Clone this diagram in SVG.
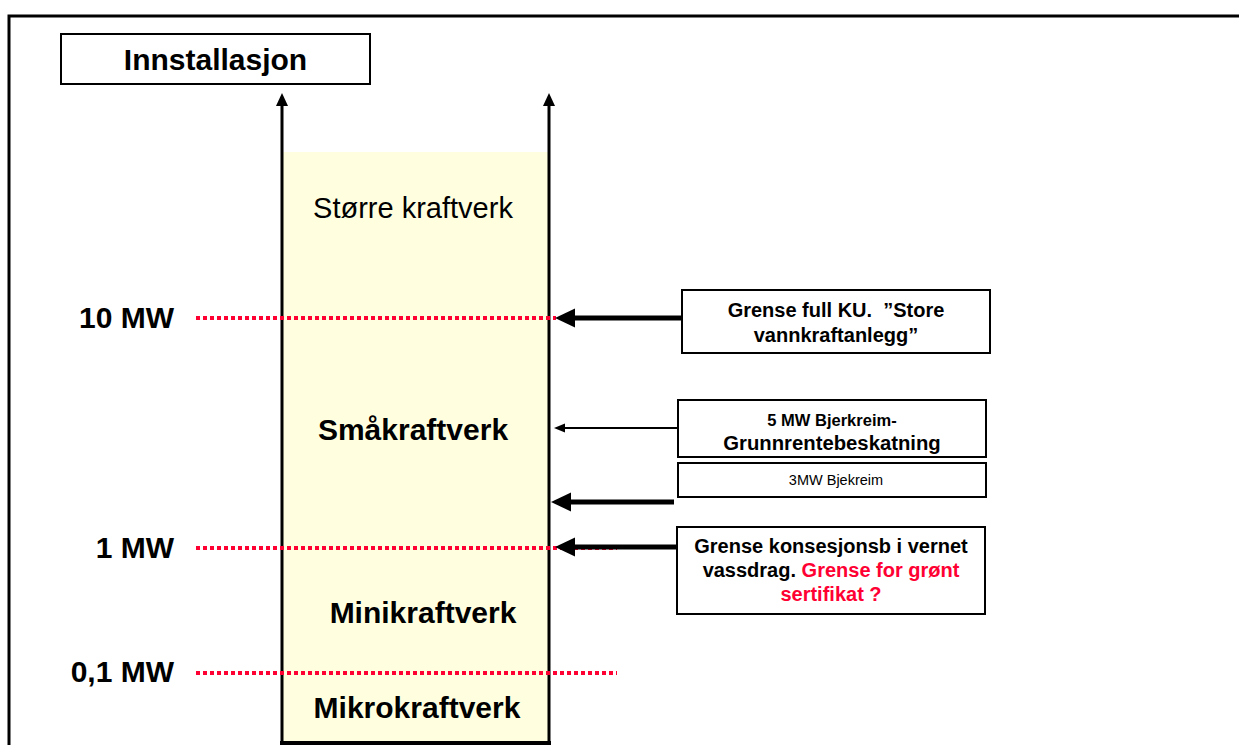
<svg xmlns="http://www.w3.org/2000/svg" width="1239" height="745" viewBox="0 0 1239 745">
<style>
.t{font-family:"Liberation Sans",Arial,sans-serif;fill:#000}
.b{font-weight:bold}
.red{fill:#FF0033}
.box{fill:#fff;stroke:#000;stroke-width:2}
.dot{stroke:#FF0033;stroke-width:4;stroke-dasharray:4 3;fill:none}
.ln{stroke:#000;fill:none}
.hd{fill:#000}
</style>
<rect width="1239" height="745" fill="#fff"/>
<g id="frame"><path class="ln" d="M9,745 V16 H1239" stroke-width="3"/></g>

<g id="scale">
<rect x="282" y="152" width="267" height="591" fill="#FFFFE0"/>
<line class="ln" x1="280" y1="743" x2="551" y2="743" stroke-width="4"/>
<line class="ln" x1="282" y1="745" x2="282" y2="104" stroke-width="3"/>
<polygon class="hd" points="282,93 276,106 288,106"/>
<line class="ln" x1="549" y1="745" x2="549" y2="104" stroke-width="3"/>
<polygon class="hd" points="549,93 543,106 555,106"/>
</g>

<g id="title">
<rect class="box" x="61" y="34" width="309" height="50"/>
<text class="t b" x="215.5" y="70" font-size="30" text-anchor="middle">Innstallasjon</text>
</g>

<g id="labels">
<text class="t b" x="174" y="328" font-size="30" text-anchor="end">10 MW</text>
<text class="t b" x="174" y="558" font-size="30" text-anchor="end">1 MW</text>
<text class="t b" x="174" y="682" font-size="30" text-anchor="end">0,1 MW</text>
</g>

<g id="regions">
<text class="t" x="413" y="218" font-size="29" text-anchor="middle">Større kraftverk</text>
<text class="t b" x="413" y="440" font-size="30" text-anchor="middle">Småkraftverk</text>
<text class="t b" x="423" y="623" font-size="30" text-anchor="middle">Minikraftverk</text>
<text class="t b" x="417" y="718" font-size="30" text-anchor="middle">Mikrokraftverk</text>
</g>

<g id="connectors">
<line class="dot" x1="196" y1="318" x2="556" y2="318"/>
<line class="dot" x1="196" y1="548" x2="617" y2="548"/>
<line class="dot" x1="196" y1="673" x2="617" y2="673"/>
<line class="ln" x1="682" y1="318" x2="572" y2="318" stroke-width="5"/>
<polygon class="hd" points="555,318 575,308.5 575,327.5"/>
<line class="ln" x1="678" y1="428" x2="562" y2="428" stroke-width="2"/>
<polygon class="hd" points="554,428 565,423.5 565,432.5"/>
<line class="ln" x1="674" y1="502" x2="568" y2="502" stroke-width="5"/>
<polygon class="hd" points="551,502 571,492.5 571,511.5"/>
<line class="ln" x1="677" y1="547" x2="572" y2="547" stroke-width="5"/>
<polygon class="hd" points="555,547 575,537.5 575,556.5"/>
</g>

<g id="box-ku">
<rect class="box" x="682" y="290" width="308" height="63"/>
<text class="t b" x="836" y="317" font-size="20" text-anchor="middle" xml:space="preserve">Grense full KU.  ”Store</text>
<text class="t b" x="836" y="342" font-size="20" text-anchor="middle">vannkraftanlegg”</text>
</g>

<g id="box-5mw">
<rect class="box" x="678" y="400" width="308" height="57"/>
<text class="t b" x="832" y="426" font-size="16.5" text-anchor="middle">5 MW Bjerkreim-</text>
<text class="t b" x="832" y="450" font-size="20.3" text-anchor="middle">Grunnrentebeskatning</text>
</g>

<g id="box-3mw">
<rect class="box" x="678" y="463" width="308" height="34"/>
<text class="t" x="836" y="485" font-size="14.5" text-anchor="middle">3MW Bjekreim</text>
</g>

<g id="box-1mw">
<rect class="box" x="677" y="527" width="308" height="87"/>
<text class="t b" x="831" y="553" font-size="20" text-anchor="middle">Grense konsesjonsb i vernet</text>
<text class="t b" x="831" y="577" font-size="20" text-anchor="middle">vassdrag. <tspan class="red">Grense for grønt</tspan></text>
<text class="t b red" x="831" y="601" font-size="20" text-anchor="middle">sertifikat ?</text>
</g>
</svg>
